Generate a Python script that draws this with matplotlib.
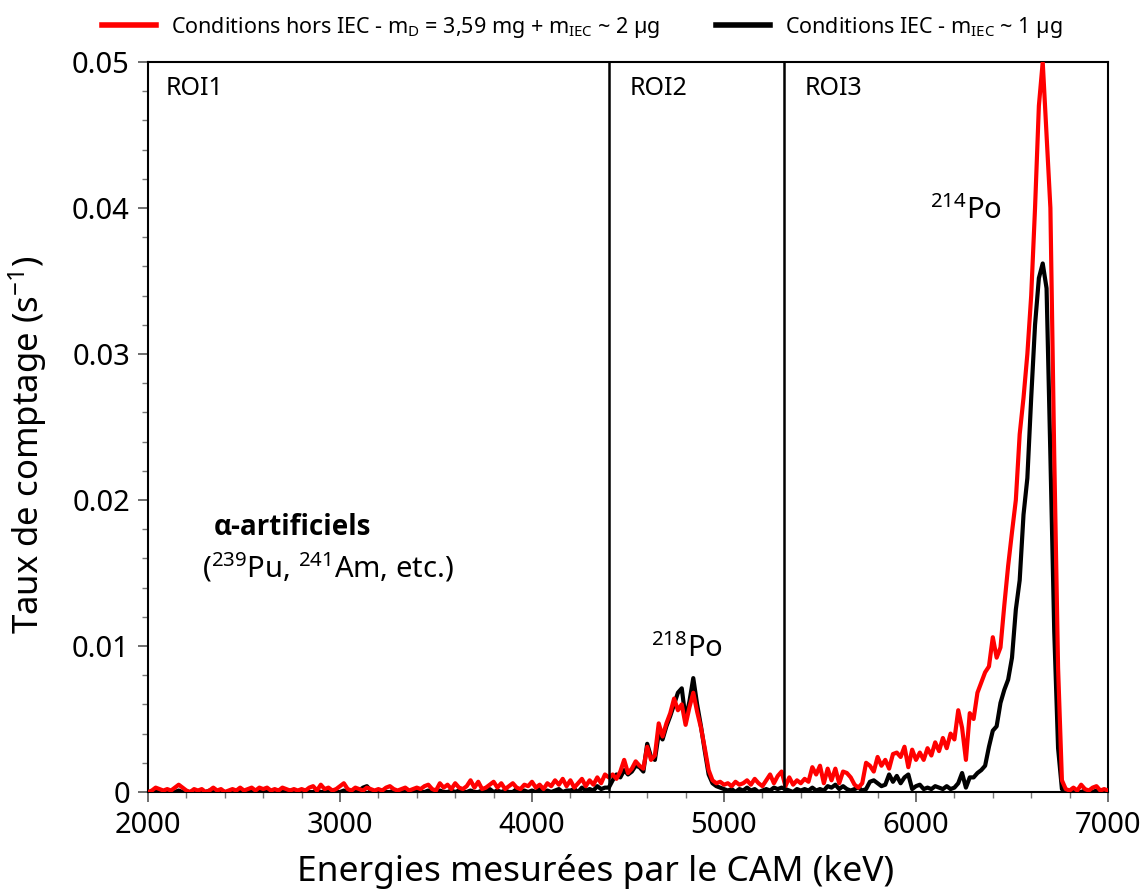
import numpy as np
import matplotlib
matplotlib.use("Agg")
import matplotlib.pyplot as plt
from matplotlib.ticker import MultipleLocator

plt.rcParams['font.family'] = ['Noto Sans', 'DejaVu Sans']
plt.rcParams['mathtext.fontset'] = 'custom'
plt.rcParams['mathtext.rm'] = 'Noto Sans'
plt.rcParams['mathtext.it'] = 'Noto Sans'
plt.rcParams['mathtext.bf'] = 'Noto Sans:bold'

# Energy channels (keV), 20 keV step from 2000 to 7000
energy_kev = np.arange(2000, 7001, 20)

# Count rates in units of 1e-4 s^-1
red_hors_iec_1e4 = [
    # 2000-2180
    0, 1, 3, 2, 1, 2, 1, 3, 5, 3,
    # 2200-2380
    1, 0, 2, 1, 2, 0, 1, 3, 1, 2,
    # 2400-2580
    0, 1, 2, 1, 3, 1, 2, 3, 1, 3,
    # 2600-2780
    2, 3, 1, 2, 1, 3, 2, 1, 2, 1,
    # 2800-2980
    2, 1, 3, 4, 1, 5, 2, 3, 1, 2,
    # 3000-3180
    4, 6, 2, 1, 3, 2, 1, 3, 2, 1,
    # 3200-3380
    2, 1, 3, 4, 2, 1, 2, 3, 1, 2,
    # 3400-3580
    3, 2, 4, 5, 2, 1, 6, 3, 5, 2,
    # 3600-3780
    6, 3, 2, 4, 8, 3, 7, 2, 3, 5,
    # 3800-3980
    7, 3, 6, 2, 4, 6, 3, 2, 5, 4,
    # 4000-4180
    7, 3, 5, 2, 6, 4, 8, 5, 9, 4,
    # 4200-4380
    8, 3, 6, 9, 4, 8, 5, 10, 6, 12,
    # 4400-4580
    10, 12, 9, 14, 22, 13, 16, 21, 18, 16,
    # 4600-4780
    31, 22, 25, 47, 38, 47, 54, 64, 56, 60,
    # 4800-4980
    46, 58, 68, 55, 44, 30, 15, 8, 6, 7,
    # 5000-5180
    5, 6, 4, 7, 5, 6, 8, 5, 9, 6,
    # 5200-5380
    4, 8, 12, 6, 11, 14, 4, 10, 5, 8,
    # 5400-5580
    6, 9, 7, 17, 12, 18, 6, 16, 8, 16,
    # 5600-5780
    6, 14, 13, 10, 5, 3, 6, 20, 18, 14,
    # 5800-5980
    24, 18, 22, 16, 26, 27, 24, 31, 17, 29,
    # 6000-6180
    22, 27, 22, 30, 25, 34, 28, 37, 30, 40,
    # 6200-6380
    36, 56, 44, 22, 54, 50, 68, 75, 82, 86,
    # 6400-6580
    106, 92, 99, 128, 155, 178, 200, 245, 270, 300,
    # 6600-6780
    340, 400, 470, 500, 450, 400, 230, 85, 8, 2,
    # 6800-6980
    1, 3, 1, 5, 2, 1, 3, 4, 1, 2,
    # 7000
    1,
]

black_iec_1e4 = [
    # 2000-2180
    0, 0, 1, 0, 0, 1, 0, 0, 1, 0,
    # 2200-2380
    0, 0, 1, 0, 0, 0, 1, 0, 0, 1,
    # 2400-2580
    0, 0, 0, 1, 0, 0, 0, 1, 0, 0,
    # 2600-2780
    1, 0, 0, 0, 1, 0, 0, 1, 0, 0,
    # 2800-2980
    0, 1, 0, 0, 1, 0, 0, 0, 1, 0,
    # 3000-3180
    0, 1, 0, 0, 0, 1, 3, 4, 1, 0,
    # 3200-3380
    0, 1, 0, 0, 1, 0, 0, 1, 0, 0,
    # 3400-3580
    1, 0, 0, 1, 0, 0, 1, 0, 0, 1,
    # 3600-3780
    0, 1, 0, 0, 1, 0, 0, 1, 0, 2,
    # 3800-3980
    0, 1, 0, 1, 0, 0, 2, 0, 1, 0,
    # 4000-4180
    1, 0, 2, 0, 1, 0, 1, 2, 0, 1,
    # 4200-4380
    1, 2, 0, 3, 1, 2, 1, 4, 2, 3,
    # 4400-4580
    3, 8, 12, 10, 15, 12, 14, 18, 17, 14,
    # 4600-4780
    33, 24, 22, 40, 36, 45, 52, 60, 68, 71,
    # 4800-4980
    50, 62, 78, 60, 45, 28, 12, 6, 4, 3,
    # 5000-5180
    2, 1, 2, 0, 2, 1, 3, 1, 2, 0,
    # 5200-5380
    1, 2, 1, 3, 2, 3, 2, 1, 0, 2,
    # 5400-5580
    1, 2, 1, 3, 1, 2, 1, 4, 3, 5,
    # 5600-5780
    2, 4, 2, 1, 2, 3, 1, 2, 7, 8,
    # 5800-5980
    6, 4, 5, 12, 7, 11, 6, 10, 12, 2,
    # 6000-6180
    4, 5, 2, 3, 2, 4, 3, 2, 4, 2,
    # 6200-6380
    3, 6, 13, 3, 10, 10, 13, 15, 18, 31,
    # 6400-6580
    42, 45, 61, 70, 77, 92, 125, 145, 190, 215,
    # 6600-6780
    270, 320, 352, 362, 345, 230, 110, 30, 2, 1,
    # 6800-6980
    0, 1, 0, 0, 1, 0, 0, 1, 0, 0,
    # 7000
    0,
]

roi_bounds_kev = [4400, 5310]
roi_labels = ["ROI1", "ROI2", "ROI3"]
xticks = [2000, 3000, 4000, 5000, 6000, 7000]
yticks = [0, 0.01, 0.02, 0.03, 0.04, 0.05]
ytick_labels = ["0", "0.01", "0.02", "0.03", "0.04", "0.05"]

red_rate = np.array(red_hors_iec_1e4) * 1e-4
black_rate = np.array(black_iec_1e4) * 1e-4

fig = plt.figure(figsize=(11.41, 8.93), dpi=100)
ax = fig.add_axes([148 / 1141, 1 - 792 / 893, (1108 - 148) / 1141, (792 - 62) / 893])

ax.plot(energy_kev, red_rate, color='#ff0000', lw=3.0, zorder=3,
        label=r"Conditions hors IEC - m$_{\mathregular{D}}$ = 3,59 mg + m$_{\mathregular{IEC}}$ ~ 2 µg")
ax.plot(energy_kev, black_rate, color='black', lw=3.0, zorder=2,
        label=r"Conditions IEC - m$_{\mathregular{IEC}}$ ~ 1 µg")

for b in roi_bounds_kev:
    ax.axvline(b, color='black', lw=1.8, zorder=4)

ax.set_xlim(2000, 7000)
ax.set_ylim(0, 0.05)
ax.set_xticks(xticks)
ax.set_yticks(yticks)
ax.set_yticklabels(ytick_labels)
ax.xaxis.set_minor_locator(MultipleLocator(200))
ax.yaxis.set_minor_locator(MultipleLocator(0.002))
ax.tick_params(axis='both', which='major', direction='out', length=7, width=1.2,
               labelsize=21, color='#555555')
ax.tick_params(axis='x', which='major', pad=7)
ax.tick_params(axis='y', which='major', pad=6)
ax.tick_params(axis='both', which='minor', direction='out', length=4, width=1.0, color='#777777')
for s in ax.spines.values():
    s.set_linewidth(1.5)

ax.set_xlabel("Energies mesurées par le CAM (keV)", fontsize=25.5, labelpad=12)
ax.set_ylabel(r"Taux de comptage (s$^{\mathregular{-1}}$)", fontsize=25, labelpad=14)
ax.xaxis.set_label_coords(0.466, -0.085)
ax.yaxis.set_label_coords(-0.103, 0.475)

# ROI labels
ax.text(2090, 0.0482, roi_labels[0], fontsize=18, va='center', ha='left')
ax.text(4510, 0.0482, roi_labels[1], fontsize=18, va='center', ha='left')
ax.text(5420, 0.0482, roi_labels[2], fontsize=18, va='center', ha='left')

# Peak annotations
ax.text(6075, 0.0398, r"$^{\mathregular{214}}$Po", fontsize=21, ha='left', va='center')
ax.text(4620, 0.0098, r"$^{\mathregular{218}}$Po", fontsize=21, ha='left', va='center')
ax.text(2340, 0.0181, "α-artificiels", fontsize=20, fontweight='bold',
        family=['Open Sans', 'DejaVu Sans'], ha='left', va='center')
ax.text(2281, 0.0154, r"($^{\mathregular{239}}$Pu, $^{\mathregular{241}}$Am, etc.)", fontsize=21,
        ha='left', va='center')

leg = fig.legend(loc='upper center', bbox_to_anchor=(0.51, 1.005), ncol=2, frameon=False,
                 fontsize=15.5, handlelength=2.5, columnspacing=2.6, handletextpad=0.7)
for line in leg.get_lines():
    line.set_linewidth(4)

fig.savefig("out.png", dpi=100)
